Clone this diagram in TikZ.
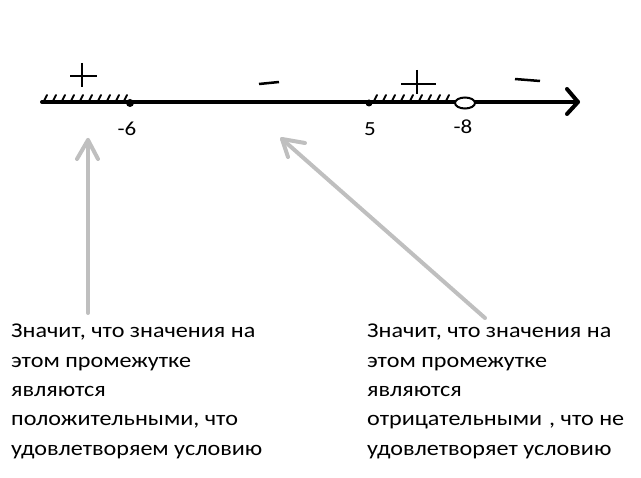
\documentclass[tikz,border=0pt]{standalone}
\usepackage{fontspec}
\setmainfont{Carlito}
\newfontfamily\notefont[FakeStretch=1.15]{Carlito}
\usetikzlibrary{shapes.geometric}
\begin{document}
\begin{tikzpicture}[x=1pt,y=-1pt,
  axis/.style={line width=4pt,line cap=round},
  hatch/.style={line width=2pt,line cap=round},
  sign/.style={line width=2.5pt},
  pointer/.style={draw=black!25,line width=4pt,line cap=round,line join=round},
  num/.style={font=\notefont\fontsize{20}{22}\selectfont,inner sep=0pt},
  note/.style={font=\notefont\fontsize{21}{29.3}\selectfont,align=left,anchor=north west,inner sep=0pt}]
\useasboundingbox (0,0) rectangle (641,478);
% axis
\coordinate (ax0) at (42,102);
\coordinate (axend) at (578,102);
\draw[axis] (ax0) -- (axend);
\draw[axis,line join=round] (567,89) -- (axend) -- (567,114);
% hatching left
\foreach \x in {44,53,62,71,80,89,98,107,116,124} \draw[hatch] (\x,101) -- (\x+3,95);
% hatching right
\foreach \x in {374,383,392,401,410,419,428,437,446} \draw[hatch] (\x,101) -- (\x+3,95);
% points
\node[circle,fill=black,inner sep=0pt,minimum size=8pt] (pm6) at (130,103) {};
\node[circle,fill=black,inner sep=0pt,minimum size=7pt] (p5) at (369,103) {};
\node[ellipse,draw=black,line width=2pt,fill=white,inner sep=0pt,minimum width=20pt,minimum height=11pt] (pm8) at (465,103) {};
% labels
\node[num] (lm6) at (127,129) {-6};
\node[num] (l5) at (370,129) {5};
\node[num] (lm8) at (463,127) {-8};
% signs
\draw[sign] (82,63) -- (82,87);
\draw[sign] (70,76) -- (97,76);
\draw[sign] (259,84) -- (279,82);
\draw[sign] (417,70) -- (417,94);
\draw[sign] (401,84) -- (436,84);
\draw[sign] (515,79) -- (540,81);
% notes
\node[note] (nl) at (11,324) {Значит, что значения на\\этом промежутке\\являются\\положительными, что\\удовлетворяем условию};
\node[note] (nr) at (367,324) {Значит, что значения на\\этом промежутке\\являются\\отрицательными\hspace{7pt}, что не\\удовлетворяет условию};
% pointers
\coordinate (a1s) at (88,313);
\coordinate (a1t) at (88,140);
\draw[pointer] (a1s) -- (a1t);
\draw[pointer] (77,159) -- (a1t) -- (98,159);
\coordinate (a2s) at (485,318);
\coordinate (a2t) at (282,139);
\draw[pointer] (a2s) -- (a2t);
\draw[pointer] (305,143) -- (a2t) -- (288,157);
\end{tikzpicture}
\end{document}
